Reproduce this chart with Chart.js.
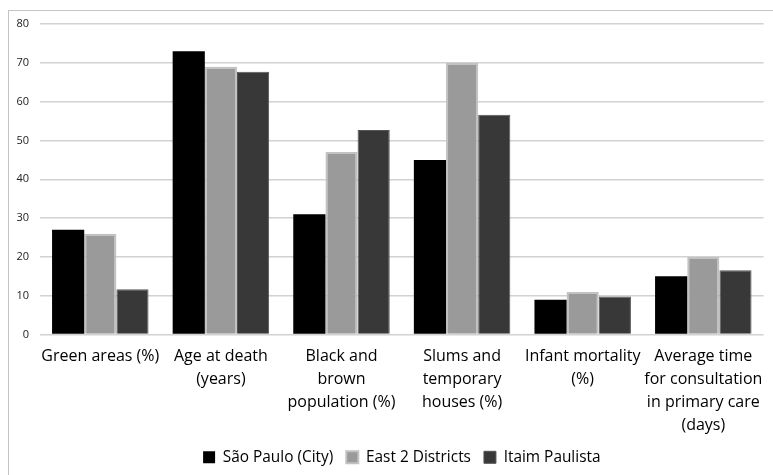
<!DOCTYPE html>
<html>
<head>
<meta charset="utf-8">
<script src="https://cdn.jsdelivr.net/npm/chart.js@4.4.1/dist/chart.umd.min.js"></script>
<style>
  html, body { margin: 0; padding: 0; background: #fff; overflow: hidden; }
  #wrap { position: relative; width: 773px; height: 475px; }
  #frame { position: absolute; left: 8px; top: 10px; width: 800px; height: 500px;
           border-left: 1px solid #c4c4c4; border-top: 1px solid #c4c4c4; }
  canvas { position: absolute; left: 0; top: 0; }
</style>
</head>
<body>
<div id="wrap">
  <div id="frame"></div>
  <canvas id="c" width="773" height="475"></canvas>
</div>
<script>
const categories = [
  ["Green areas (%)"],
  ["Age at death", "(years)"],
  ["Black and", "brown", "population (%)"],
  ["Slums and", "temporary", "houses (%)"],
  ["Infant mortality", "(%)"],
  ["Average time", "for consultation", "in primary care", "(days)"]
];
const seriesNames = ["São Paulo (City)", "East 2 Districts", "Itaim Paulista"];
const saoPaulo = [27, 73, 31, 45, 9, 15];
const east2 = [26, 69, 47, 70, 11, 20];
const itaim = [11.7, 67.7, 52.7, 56.6, 9.8, 16.6];
const yTicks = [0, 10, 20, 30, 40, 50, 60, 70, 80];

const fontFamily = "'Open Sans', Lato, sans-serif";

new Chart(document.getElementById('c'), {
  type: 'bar',
  data: {
    labels: categories,
    datasets: [
      { label: seriesNames[0], data: saoPaulo, backgroundColor: '#000000', borderColor: '#000000', borderWidth: 0 },
      { label: seriesNames[1], data: east2, backgroundColor: '#9a9a9a', borderColor: '#c2c2c2', borderWidth: 2 },
      { label: seriesNames[2], data: itaim, backgroundColor: '#383838', borderColor: '#555555', borderWidth: 1 }
    ]
  },
  options: {
    responsive: false,
    animation: false,
    devicePixelRatio: 1,
    layout: { padding: { top: 24, right: 8, left: 0, bottom: 0 } },
    datasets: { bar: { barPercentage: 1.0, categoryPercentage: 0.8 } },
    plugins: {
      legend: {
        position: 'bottom',
        fullSize: false,
        labels: {
          font: { family: fontFamily, size: 15.4 },
          color: '#000',
          boxWidth: 12,
          boxHeight: 12,
          padding: 13
        }
      },
      tooltip: { enabled: false }
    },
    scales: {
      x: {
        grid: { display: false, drawTicks: false },
        border: { display: false },
        ticks: {
          font: { family: fontFamily, size: 16, lineHeight: 1.45 },
          color: '#000',
          padding: 10,
          maxRotation: 0,
          autoSkip: false
        },
        afterFit: (s) => { s.height = 102; }
      },
      y: {
        min: 0, max: 80,
        afterBuildTicks: (s) => { s.ticks = yTicks.map(v => ({ value: v })); },
        grid: { color: '#d2d2d2', lineWidth: 1.5, drawTicks: false },
        border: { display: false },
        ticks: {
          font: { family: fontFamily, size: 11 },
          color: '#222',
          padding: 11
        },
        afterFit: (s) => { s.width = 40; }
      }
    }
  }
});
</script>
</body>
</html>
